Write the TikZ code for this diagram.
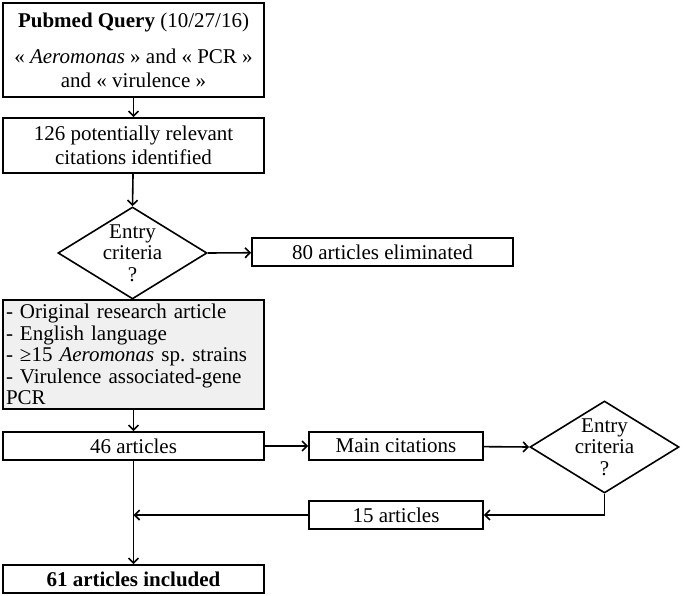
\documentclass[tikz,border=0pt]{standalone}
\usepackage{fontspec}
\setmainfont{Liberation Serif}
\usetikzlibrary{shapes.geometric,arrows.meta}
\begin{document}
\frenchspacing
\begin{tikzpicture}[x=1pt,y=-1pt,
  every node/.style={font=\fontsize{21}{24}\selectfont},
  box/.style={draw,line width=1.6pt,rectangle,inner sep=0pt,align=center},
  diam/.style={draw,line width=1.6pt,diamond,inner sep=0pt,minimum width=149pt,minimum height=92pt},
  conn/.style={line width=1.6pt},
  arr/.style={conn,-{Straight Barb[length=5pt,width=10pt,line width=1.6pt]}}
]
\useasboundingbox (0,0) rectangle (683,596);
\node[box,minimum width=261pt,minimum height=94pt] (q) at (133.5,50)
  {\textbf{Pubmed Query} (10/27/16)\\[12pt]« \textit{Aeromonas} » and « PCR »\\and « virulence »};
\node[box,minimum width=261pt,minimum height=55pt] (c) at (133.5,145.5)
  {126 potentially relevant\\citations identified};
\node[diam] (d1) at (132.5,253) {};
\node[align=center,font=\fontsize{21}{21.5}\selectfont] (d1t) at (d1) {Entry\\criteria\\?};
\node[box,minimum width=261pt,minimum height=28pt] (el) at (382.5,252) {80 articles eliminated};
\node[box,fill=black!6,minimum width=261pt,minimum height=109pt,text width=255pt,align=left,font=\fontsize{21}{21.5}\selectfont] (g) at (133.5,354.5)
  {- Original research article\\- English language\\- ≥15 \textit{Aeromonas} sp. strains\\- Virulence associated-gene\\PCR};
\node[box,minimum width=261pt,minimum height=28pt] (a46) at (133.5,446) {46 articles};
\node[box,minimum width=174pt,minimum height=28pt] (mc) at (396,446) {Main citations};
\node[diam] (d2) at (604.5,447) {};
\node[align=center,font=\fontsize{21}{21.5}\selectfont] (d2t) at (d2) {Entry\\criteria\\?};
\node[box,minimum width=174pt,minimum height=28pt] (a15) at (396,515) {15 articles};
\node[box,minimum width=261pt,minimum height=28pt] (a61) at (133.5,579) {\textbf{61 articles included}};
\coordinate (j) at (a46.south |- a15.west);
\draw[arr] (q) -- (c);
\draw[arr] (c) -- (d1.north);
\draw[arr] (d1.east) -- (el);
\draw[arr] (g) -- (a46);
\draw[arr] (a46) -- (mc);
\draw[arr] (mc) -- (d2.west);
\draw[arr] (d2.south) |- (a15.east);
\draw[arr] (a15.west) -- (j);
\draw[arr] (a46.south) -- (a61.north);
\end{tikzpicture}
\end{document}
